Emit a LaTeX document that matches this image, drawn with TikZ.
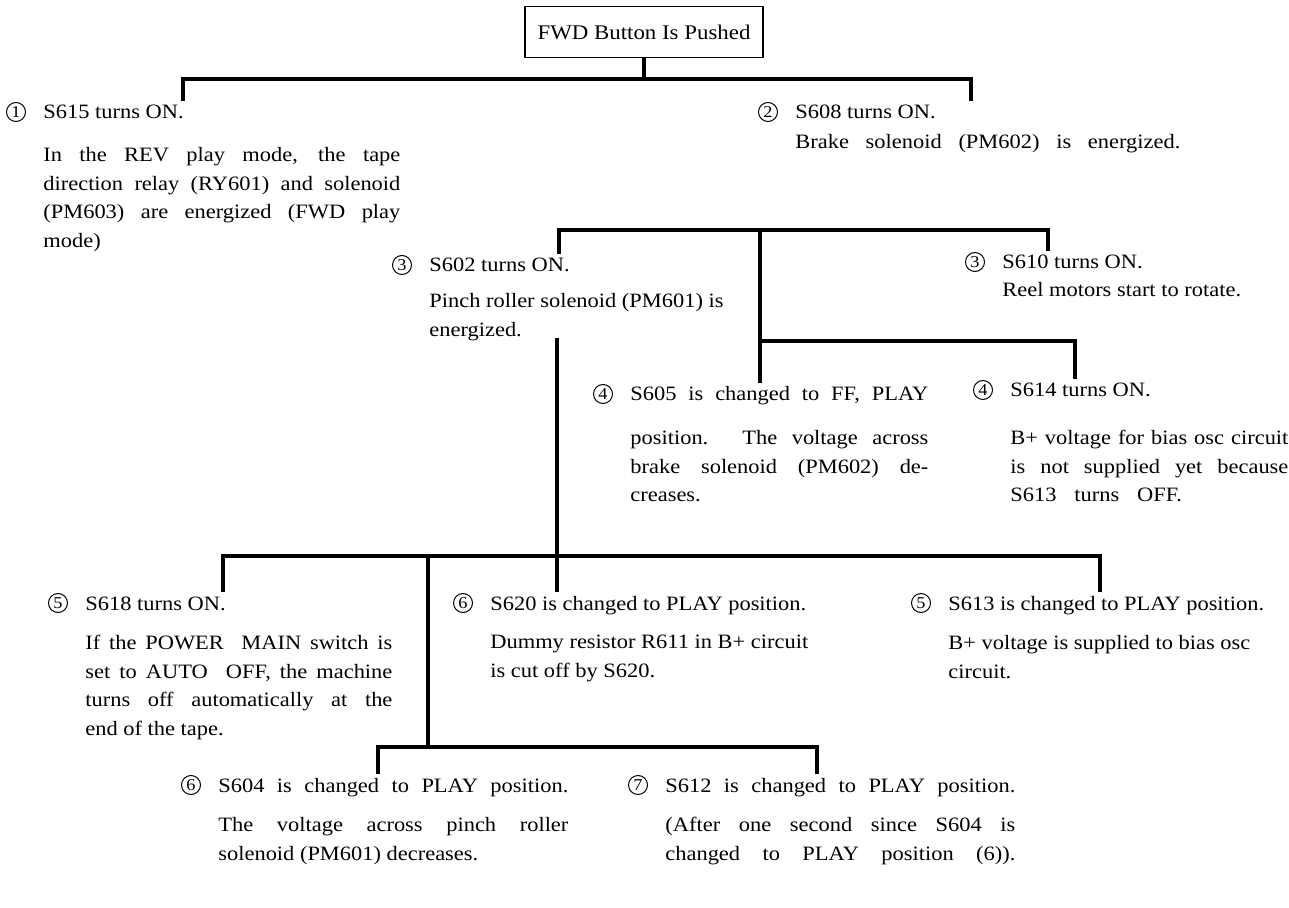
\documentclass[tikz,border=0pt]{standalone}
\usepackage{fontspec}
\setmainfont{Liberation Serif}[FakeStretch=1.1]
\usetikzlibrary{positioning}
\newcommand\txtsize{\fontsize{10.2}{14.3}\selectfont}
\tolerance=10000
\hyphenpenalty=10000

\begin{document}
\begin{tikzpicture}[x=0.5pt,y=-0.5pt,node distance=8.5pt,
bar/.style={line width=1.7pt},
titlebox/.style={draw,line width=0.7pt,inner sep=0pt,minimum width=119pt,minimum height=25.5pt,font=\fontsize{10.4}{12}\selectfont},
head/.style={anchor=west,inner sep=0pt,text height=9pt,text depth=2pt,font=\txtsize},
num/.style={circle,draw,line width=0.5pt,inner sep=0pt,minimum size=9.5pt,font=\fontsize{8.3}{9}\selectfont},
body/.style={anchor=north west,inner sep=0pt,align=justify,font=\txtsize},
plain/.style={anchor=north west,inner sep=0pt,align=left,font=\txtsize}]
\useasboundingbox (0,0) rectangle (1289,908);
\node[titlebox] (title) at (644,32) {FWD Button Is Pushed};

\node[head] (h1) at (43,112) {S615 turns ON.};
\node[num,left=of h1] (n1) {1};
\node[body,text width=178.5pt] (b1) at (43,147) {In the REV play mode, the tape\linebreak direction relay (RY601) and solenoid\linebreak (PM603) are energized (FWD play\linebreak mode)};
\node[head] (h2) at (795,112) {S608 turns ON.};
\node[num,left=of h2] (n2) {2};
\node[plain] (b2) at (795,134) {\makebox[192.5pt][s]{Brake solenoid (PM602) is energized.}};

\node[head] (h3a) at (429,265) {S602 turns ON.};
\node[num,left=of h3a] (n3a) {3};
\node[plain] (b3a) at (429,293) {Pinch roller solenoid (PM601) is\\energized.};
\node[head] (h3b) at (1002,262) {S610 turns ON.};
\node[num,left=of h3b] (n3b) {3};
\node[plain] (b3b) at (1002,282) {Reel motors start to rotate.};

\node[head] (h4a) at (630,394) {\makebox[149pt][s]{S605 is changed to FF, PLAY}};
\node[num,left=of h4a] (n4a) {4};
\node[body,text width=149pt] (b4a) at (630,430) {position. The voltage across\linebreak brake solenoid (PM602) de-\linebreak creases.};
\node[head] (h4b) at (1010,390) {S614 turns ON.};
\node[num,left=of h4b] (n4b) {4};
\node[body,text width=139pt] (b4b) at (1010,430) {B+ voltage for bias osc circuit\linebreak is not supplied yet because\linebreak S613\hspace{0.6em} turns\hspace{0.6em} OFF.};

\node[head] (h5a) at (85,603) {S618 turns ON.};
\node[num,left=of h5a] (n5a) {5};
\node[body,text width=153.5pt] (b5a) at (85,635) {If the POWER\ \ MAIN switch is\linebreak set to AUTO\ \ OFF, the machine\linebreak turns off automatically at the\linebreak end of the tape.};
\node[head] (h6a) at (490,603) {S620 is changed to PLAY position.};
\node[num,left=of h6a] (n6a) {6};
\node[plain] (b6a) at (490,635) {Dummy resistor R611 in B+ circuit\\is cut off by S620.};
\node[head] (h5b) at (948,603) {S613 is changed to PLAY position.};
\node[num,left=of h5b] (n5b) {5};
\node[plain] (b5b) at (948,635) {B+ voltage is supplied to bias osc\\circuit.};

\node[head] (h6b) at (218,785) {\makebox[175pt][s]{S604 is changed to PLAY position.}};
\node[num,left=of h6b] (n6b) {6};
\node[body,text width=175pt] (b6b) at (218,817) {The voltage across pinch roller\linebreak solenoid (PM601) decreases.};
\node[head] (h7) at (665,785) {\makebox[175pt][s]{S612 is changed to PLAY position.}};
\node[num,left=of h7] (n7) {7};
\node[plain] (b7) at (665,817) {\makebox[175pt][s]{(After one second since S604 is}\\\makebox[175pt][s]{changed to PLAY position (6)).}};

\coordinate (l1a) at (183,79);
\coordinate (l1b) at (971,79);
\coordinate (l2a) at (559,230);
\coordinate (l2b) at (1048,230);
\coordinate (l2m) at (760,230);
\coordinate (l3b) at (1075,341);
\coordinate (v3) at (557,338);
\coordinate (l4a) at (223,556);
\coordinate (l4b) at (1100,556);
\coordinate (l4m) at (428,556);
\coordinate (l5a) at (378,747);
\coordinate (l5b) at (817,747);

\draw[bar] (title.south) -- (title.south |- l1a);
\draw[bar] (h1.north -| l1a) -- (l1a) -- (l1b) -- (l1b |- h2.north);
\draw[bar] (h3a.north -| l2a) -- (l2a) -- (l2b) -- (l2b |- h3b.north);
\draw[bar] (l2m) -- (l2m |- h4a.north);
\draw[bar] (l2m |- l3b) -- (l3b) -- (l3b |- h4b.north);
\draw[bar] (v3) -- (v3 |- h6a.north);
\draw[bar] (h5a.north -| l4a) -- (l4a) -- (l4b) -- (l4b |- h5b.north);
\draw[bar] (l4m) -- (l4m |- l5a);
\draw[bar] (h6b.north -| l5a) -- (l5a) -- (l5b) -- (l5b |- h7.north);
\end{tikzpicture}
\end{document}
